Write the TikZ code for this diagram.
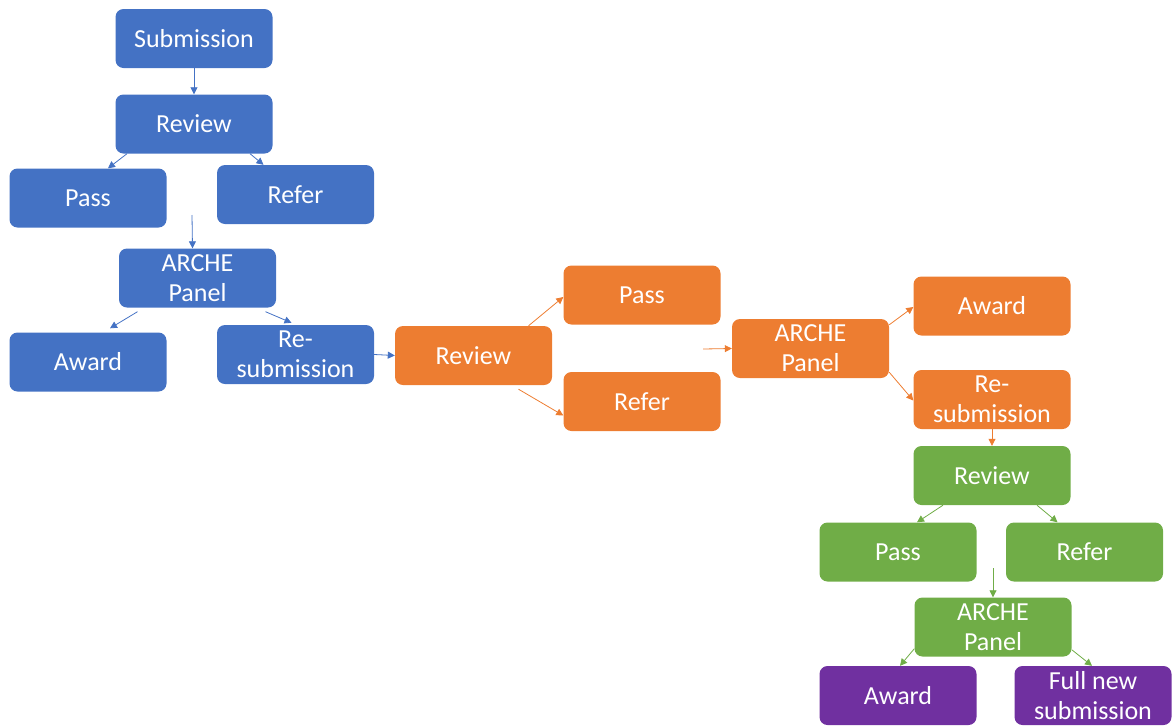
\documentclass[tikz,border=0pt]{standalone}
\usepackage{fontspec}
\setmainfont{Carlito}
\definecolor{stageblue}{RGB}{68,114,196}
\definecolor{stageorange}{RGB}{237,125,49}
\definecolor{stagegreen}{RGB}{112,173,71}
\definecolor{stagepurple}{RGB}{112,48,160}
\usetikzlibrary{arrows.meta}

\begin{document}
\begin{tikzpicture}[x=1pt, y=-1pt,
    box/.style={rectangle, rounded corners=8pt, minimum width=157pt, minimum height=59pt,
        inner sep=0pt, text=white, align=center, font=\fontsize{26}{30}\selectfont},
    arr/.style={-{Triangle[length=7pt,width=7pt]}, line width=0.8pt}]
    \useasboundingbox (0,0) rectangle (1172,726);
    % first round
    \node[box, fill=stageblue] (bsub) at (194,38.5) {Submission};
    \node[box, fill=stageblue] (brev) at (194,124) {Review};
    \node[box, fill=stageblue] (bpass) at (88,198) {Pass};
    \node[box, fill=stageblue] (brefer) at (295.5,194.5) {Refer};
    \node[box, fill=stageblue] (barche) at (197.5,278) {ARCHE\\Panel};
    \node[box, fill=stageblue] (baward) at (88,362) {Award};
    \node[box, fill=stageblue] (bresub) at (295.5,354.5) {Re-\\submission};
    % second round
    \node[box, fill=stageorange] (orev) at (473.5,355.5) {Review};
    \node[box, fill=stageorange] (opass) at (642,295) {Pass};
    \node[box, fill=stageorange] (orefer) at (642,401.5) {Refer};
    \node[box, fill=stageorange] (oarche) at (810.5,348.5) {ARCHE\\Panel};
    \node[box, fill=stageorange] (oaward) at (992,306) {Award};
    \node[box, fill=stageorange] (oresub) at (992,399.5) {Re-\\submission};
    % third round
    \node[box, fill=stagegreen] (grev) at (992,475.5) {Review};
    \node[box, fill=stagegreen] (gpass) at (898,552) {Pass};
    \node[box, fill=stagegreen] (grefer) at (1084.5,552) {Refer};
    \node[box, fill=stagegreen] (garche) at (993,627) {ARCHE\\Panel};
    \node[box, fill=stagepurple] (paward) at (898,695.5) {Award};
    \node[box, fill=stagepurple] (pfull) at (1093,695.5) {Full new\\submission};
    % free arrow starts
    \coordinate (bfree) at (192,215);
    \coordinate (ofree) at (703,349);
    \coordinate (gfree) at (993,568);

    \begin{scope}[draw=stageblue]
        \draw[arr] (bsub.south) -- (brev.north);
        \draw[arr] ([xshift=-67pt]brev.south) -- ([xshift=20pt]bpass.north);
        \draw[arr] ([xshift=56pt]brev.south) -- ([xshift=-32pt]brefer.north);
        \draw[arr] (bfree) -- ([xshift=-5pt]barche.north);
        \draw[arr] ([xshift=-60pt,yshift=-4pt]barche.south) -- ([xshift=22pt,yshift=4pt]baward.north);
        \draw[arr] ([xshift=68pt,yshift=-4pt]barche.south) -- ([xshift=-4pt,yshift=2pt]bresub.north);
        \draw[arr] (bresub.east) -- (orev.west);
    \end{scope}
    \begin{scope}[draw=stageorange]
        \draw[arr] ([xshift=55pt]orev.north) -- ([yshift=-2pt]opass.west);
        \draw[arr] ([xshift=45pt,yshift=-4pt]orev.south) -- ([yshift=-14pt]orefer.west);
        \draw[arr] (ofree) -- (oarche.west);
        \draw[arr] ([yshift=-6pt]oarche.north east) -- ([yshift=-1pt]oaward.west);
        \draw[arr] ([yshift=6pt]oarche.south east) -- ([yshift=-1pt]oresub.west);
        \draw[arr] (oresub.south) -- (grev.north);
    \end{scope}
    \begin{scope}[draw=stagegreen]
        \draw[arr] ([xshift=-49pt]grev.south) -- ([xshift=19pt]gpass.north);
        \draw[arr] ([xshift=45pt]grev.south) -- ([xshift=-27pt]grefer.north);
        \draw[arr] (gfree) -- (garche.north);
        \draw[arr] ([yshift=8pt]garche.south west) -- ([xshift=2pt]paward.north);
        \draw[arr] ([yshift=7pt]garche.south east) -- ([xshift=-1pt]pfull.north);
    \end{scope}
\end{tikzpicture}
\end{document}
